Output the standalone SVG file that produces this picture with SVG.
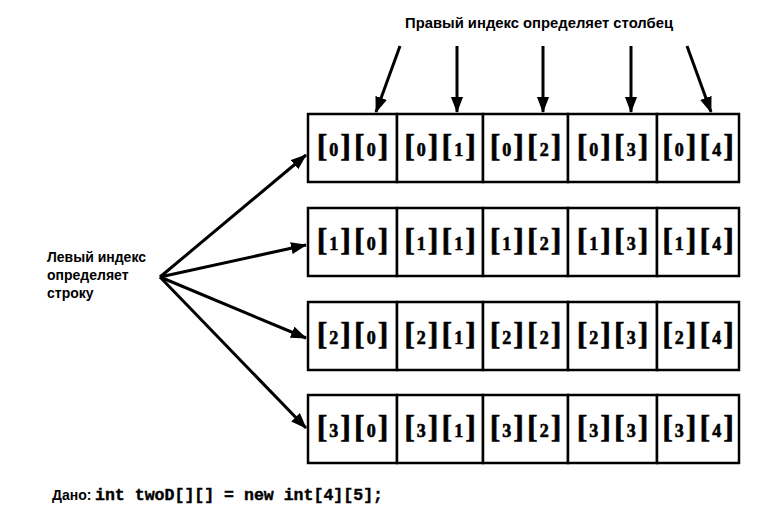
<svg xmlns="http://www.w3.org/2000/svg" width="781" height="529" viewBox="0 0 781 529">
<defs>
<style>
.box{fill:#fff;stroke:#000;stroke-width:2.5}
.lbl{font-family:"Liberation Sans",Arial,sans-serif;font-weight:bold;font-size:14px;fill:#000}
.cell{font-family:"Liberation Serif","Times New Roman",serif;font-weight:bold;fill:#000;text-anchor:middle;stroke:#000;stroke-width:0.6}
.br{font-size:32px}
.dg{font-size:18px}
.code{font-family:"Liberation Mono","Courier New",monospace;font-weight:bold;font-size:16px;stroke:#000;stroke-width:0.4}
.arr{stroke:#000;stroke-width:3;fill:none;marker-end:url(#ah)}
</style>
<marker id="ah" markerUnits="userSpaceOnUse" markerWidth="16" markerHeight="12" refX="15" refY="6" orient="auto">
<path d="M0,0 L16,6 L0,12 z" fill="#000"/>
</marker>
</defs>
<rect width="781" height="529" fill="#fff"/>

<text class="lbl" x="539" y="28" text-anchor="middle" textLength="268" lengthAdjust="spacingAndGlyphs">Правый индекс определяет столбец</text>

<g id="left-label">
<text class="lbl" x="47" y="262">Левый индекс</text>
<text class="lbl" x="47" y="280">определяет</text>
<text class="lbl" x="47" y="298">строку</text>
</g>

<g id="connectors">
<line class="arr" x1="400" y1="46" x2="376" y2="112"/>
<line class="arr" x1="457" y1="46" x2="457" y2="112"/>
<line class="arr" x1="543" y1="46" x2="543" y2="112"/>
<line class="arr" x1="631" y1="46" x2="631" y2="112"/>
<line class="arr" x1="687" y1="46" x2="711" y2="112"/>
<line class="arr" x1="160" y1="277" x2="306" y2="155"/>
<line class="arr" x1="160" y1="277" x2="306" y2="245"/>
<line class="arr" x1="160" y1="277" x2="306" y2="338"/>
<line class="arr" x1="160" y1="277" x2="306" y2="428"/>
</g>

<g id="row0">
<g id="c00"><rect class="box" x="308" y="114" width="89" height="68"/><text class="cell" x="352.5" y="156"><tspan class="br">[</tspan><tspan class="dg" dx="2">0</tspan><tspan class="br" dx="2">]</tspan><tspan class="br" dx="3">[</tspan><tspan class="dg" dx="2">0</tspan><tspan class="br" dx="2">]</tspan></text></g>
<g id="c01"><rect class="box" x="397" y="114" width="86" height="68"/><text class="cell" x="440" y="156"><tspan class="br">[</tspan><tspan class="dg" dx="2">0</tspan><tspan class="br" dx="2">]</tspan><tspan class="br" dx="3">[</tspan><tspan class="dg" dx="2">1</tspan><tspan class="br" dx="2">]</tspan></text></g>
<g id="c02"><rect class="box" x="483" y="114" width="85" height="68"/><text class="cell" x="525.5" y="156"><tspan class="br">[</tspan><tspan class="dg" dx="2">0</tspan><tspan class="br" dx="2">]</tspan><tspan class="br" dx="3">[</tspan><tspan class="dg" dx="2">2</tspan><tspan class="br" dx="2">]</tspan></text></g>
<g id="c03"><rect class="box" x="568" y="114" width="89" height="68"/><text class="cell" x="612.5" y="156"><tspan class="br">[</tspan><tspan class="dg" dx="2">0</tspan><tspan class="br" dx="2">]</tspan><tspan class="br" dx="3">[</tspan><tspan class="dg" dx="2">3</tspan><tspan class="br" dx="2">]</tspan></text></g>
<g id="c04"><rect class="box" x="657" y="114" width="82" height="68"/><text class="cell" x="698" y="156"><tspan class="br">[</tspan><tspan class="dg" dx="2">0</tspan><tspan class="br" dx="2">]</tspan><tspan class="br" dx="3">[</tspan><tspan class="dg" dx="2">4</tspan><tspan class="br" dx="2">]</tspan></text></g>
</g>

<g id="row1">
<g id="c10"><rect class="box" x="308" y="208" width="89" height="68"/><text class="cell" x="352.5" y="250"><tspan class="br">[</tspan><tspan class="dg" dx="2">1</tspan><tspan class="br" dx="2">]</tspan><tspan class="br" dx="3">[</tspan><tspan class="dg" dx="2">0</tspan><tspan class="br" dx="2">]</tspan></text></g>
<g id="c11"><rect class="box" x="397" y="208" width="86" height="68"/><text class="cell" x="440" y="250"><tspan class="br">[</tspan><tspan class="dg" dx="2">1</tspan><tspan class="br" dx="2">]</tspan><tspan class="br" dx="3">[</tspan><tspan class="dg" dx="2">1</tspan><tspan class="br" dx="2">]</tspan></text></g>
<g id="c12"><rect class="box" x="483" y="208" width="85" height="68"/><text class="cell" x="525.5" y="250"><tspan class="br">[</tspan><tspan class="dg" dx="2">1</tspan><tspan class="br" dx="2">]</tspan><tspan class="br" dx="3">[</tspan><tspan class="dg" dx="2">2</tspan><tspan class="br" dx="2">]</tspan></text></g>
<g id="c13"><rect class="box" x="568" y="208" width="89" height="68"/><text class="cell" x="612.5" y="250"><tspan class="br">[</tspan><tspan class="dg" dx="2">1</tspan><tspan class="br" dx="2">]</tspan><tspan class="br" dx="3">[</tspan><tspan class="dg" dx="2">3</tspan><tspan class="br" dx="2">]</tspan></text></g>
<g id="c14"><rect class="box" x="657" y="208" width="82" height="68"/><text class="cell" x="698" y="250"><tspan class="br">[</tspan><tspan class="dg" dx="2">1</tspan><tspan class="br" dx="2">]</tspan><tspan class="br" dx="3">[</tspan><tspan class="dg" dx="2">4</tspan><tspan class="br" dx="2">]</tspan></text></g>
</g>

<g id="row2">
<g id="c20"><rect class="box" x="308" y="302" width="89" height="68"/><text class="cell" x="352.5" y="344"><tspan class="br">[</tspan><tspan class="dg" dx="2">2</tspan><tspan class="br" dx="2">]</tspan><tspan class="br" dx="3">[</tspan><tspan class="dg" dx="2">0</tspan><tspan class="br" dx="2">]</tspan></text></g>
<g id="c21"><rect class="box" x="397" y="302" width="86" height="68"/><text class="cell" x="440" y="344"><tspan class="br">[</tspan><tspan class="dg" dx="2">2</tspan><tspan class="br" dx="2">]</tspan><tspan class="br" dx="3">[</tspan><tspan class="dg" dx="2">1</tspan><tspan class="br" dx="2">]</tspan></text></g>
<g id="c22"><rect class="box" x="483" y="302" width="85" height="68"/><text class="cell" x="525.5" y="344"><tspan class="br">[</tspan><tspan class="dg" dx="2">2</tspan><tspan class="br" dx="2">]</tspan><tspan class="br" dx="3">[</tspan><tspan class="dg" dx="2">2</tspan><tspan class="br" dx="2">]</tspan></text></g>
<g id="c23"><rect class="box" x="568" y="302" width="89" height="68"/><text class="cell" x="612.5" y="344"><tspan class="br">[</tspan><tspan class="dg" dx="2">2</tspan><tspan class="br" dx="2">]</tspan><tspan class="br" dx="3">[</tspan><tspan class="dg" dx="2">3</tspan><tspan class="br" dx="2">]</tspan></text></g>
<g id="c24"><rect class="box" x="657" y="302" width="82" height="68"/><text class="cell" x="698" y="344"><tspan class="br">[</tspan><tspan class="dg" dx="2">2</tspan><tspan class="br" dx="2">]</tspan><tspan class="br" dx="3">[</tspan><tspan class="dg" dx="2">4</tspan><tspan class="br" dx="2">]</tspan></text></g>
</g>

<g id="row3">
<g id="c30"><rect class="box" x="308" y="395" width="89" height="68"/><text class="cell" x="352.5" y="437"><tspan class="br">[</tspan><tspan class="dg" dx="2">3</tspan><tspan class="br" dx="2">]</tspan><tspan class="br" dx="3">[</tspan><tspan class="dg" dx="2">0</tspan><tspan class="br" dx="2">]</tspan></text></g>
<g id="c31"><rect class="box" x="397" y="395" width="86" height="68"/><text class="cell" x="440" y="437"><tspan class="br">[</tspan><tspan class="dg" dx="2">3</tspan><tspan class="br" dx="2">]</tspan><tspan class="br" dx="3">[</tspan><tspan class="dg" dx="2">1</tspan><tspan class="br" dx="2">]</tspan></text></g>
<g id="c32"><rect class="box" x="483" y="395" width="85" height="68"/><text class="cell" x="525.5" y="437"><tspan class="br">[</tspan><tspan class="dg" dx="2">3</tspan><tspan class="br" dx="2">]</tspan><tspan class="br" dx="3">[</tspan><tspan class="dg" dx="2">2</tspan><tspan class="br" dx="2">]</tspan></text></g>
<g id="c33"><rect class="box" x="568" y="395" width="89" height="68"/><text class="cell" x="612.5" y="437"><tspan class="br">[</tspan><tspan class="dg" dx="2">3</tspan><tspan class="br" dx="2">]</tspan><tspan class="br" dx="3">[</tspan><tspan class="dg" dx="2">3</tspan><tspan class="br" dx="2">]</tspan></text></g>
<g id="c34"><rect class="box" x="657" y="395" width="82" height="68"/><text class="cell" x="698" y="437"><tspan class="br">[</tspan><tspan class="dg" dx="2">3</tspan><tspan class="br" dx="2">]</tspan><tspan class="br" dx="3">[</tspan><tspan class="dg" dx="2">4</tspan><tspan class="br" dx="2">]</tspan></text></g>
</g>

<g id="caption">
<text class="lbl" x="52" y="500">Дано:</text>
<text class="code" x="95" y="500" textLength="288" lengthAdjust="spacingAndGlyphs">int twoD[][] = new int[4][5];</text>
</g>
</svg>
